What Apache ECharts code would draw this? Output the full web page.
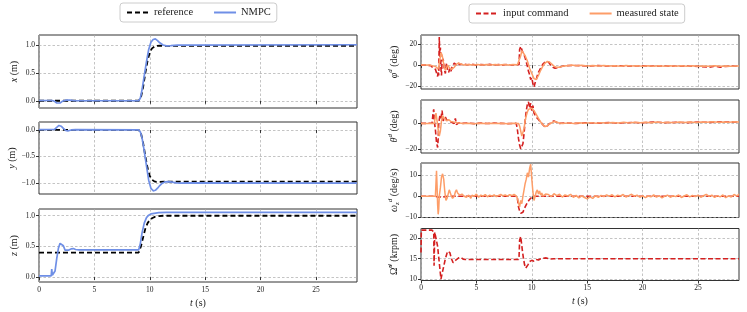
<!DOCTYPE html>
<html><head><meta charset="utf-8">
<script src="https://cdn.jsdelivr.net/npm/echarts@6/dist/echarts.min.js"></script>
<style>html,body{margin:0;padding:0;background:#fff}#c{width:747px;height:312px}</style>
</head><body><div id="c"></div>
<script>
// ---------------- DATA ----------------
const timeTicks = [0, 5, 10, 15, 20, 25];
const ticksX = [0, 0.5, 1.0];
const ticksY = [-1.0, -0.5, 0.0];
const ticksZ = [0, 0.5, 1.0];
const ticksPhi = [-20, 0, 20];
const ticksTheta = [-20, 0];
const ticksOmega = [-10, 0, 10];
const ticksRpm = [10, 15, 20];

// position x (m)
const xRef = [[0,0],[9.0,0],[9.2,0.06],[9.4,0.25],[9.6,0.5],[9.8,0.72],[10.0,0.87],[10.2,0.94],[10.4,0.97],[10.6,0.985],[10.9,0.99],[11.3,0.985],[28.7,0.985]];
const xNmpc = [[0,0.005],[1.2,0.005],[1.4,-0.01],[1.6,-0.04],[1.75,-0.05],[1.9,-0.04],[2.1,-0.01],[2.4,0.01],[2.8,0.01],[3.2,0],[4,0],[9.0,0],[9.15,0.05],[9.3,0.2],[9.5,0.45],[9.7,0.7],[9.9,0.92],[10.1,1.05],[10.3,1.1],[10.5,1.11],[10.7,1.08],[10.9,1.04],[11.2,1.0],[11.5,0.985],[11.9,0.99],[12.5,1.0],[28.7,1.005]];
// position y (m)
const yRef = [[0,0],[9.0,0],[9.2,-0.06],[9.4,-0.25],[9.6,-0.5],[9.8,-0.72],[10.0,-0.87],[10.2,-0.94],[10.4,-0.97],[10.6,-0.98],[10.9,-0.98],[11.3,-0.975],[28.7,-0.975]];
const yNmpc = [[0,0.005],[1.4,0.01],[1.6,0.05],[1.8,0.085],[2.0,0.07],[2.2,0.03],[2.4,-0.01],[2.6,-0.02],[2.9,0],[3.3,0.005],[9.0,0],[9.15,-0.04],[9.3,-0.15],[9.5,-0.4],[9.7,-0.68],[9.9,-0.95],[10.1,-1.1],[10.3,-1.15],[10.5,-1.14],[10.7,-1.1],[10.9,-1.05],[11.1,-1.01],[11.4,-0.98],[11.7,-0.975],[12.0,-0.985],[12.4,-1.0],[12.8,-1.005],[13.5,-1.0],[28.7,-1.005]];
// position z (m)
const zRef = [[0,0.4],[9.0,0.4],[9.2,0.5],[9.4,0.65],[9.6,0.79],[9.8,0.88],[10.0,0.93],[10.2,0.96],[10.5,0.985],[10.8,0.995],[11.2,1.0],[28.7,1.0]];
const zNmpc = [[0,0.02],[1.1,0.02],[1.15,0.13],[1.2,0.03],[1.3,0.04],[1.45,0.1],[1.6,0.3],[1.75,0.47],[1.9,0.55],[2.05,0.56],[2.2,0.51],[2.35,0.44],[2.5,0.41],[2.7,0.44],[2.9,0.46],[3.1,0.465],[3.3,0.45],[3.6,0.445],[4.0,0.445],[9.0,0.445],[9.15,0.55],[9.3,0.72],[9.5,0.88],[9.7,0.97],[9.9,1.01],[10.1,1.03],[10.4,1.04],[10.8,1.05],[11.5,1.055],[12.5,1.055],[28.7,1.055]];

// roll phi^d (deg)
const phiCmd = [[0,0],[0.5,0],[0.9,-0.5],[1.0,-1.5],[1.1,-3],[1.2,-2],[1.3,-4],[1.4,-3],[1.45,-9],[1.5,-11],[1.55,-6],[1.6,-10],[1.65,27],[1.7,8],[1.75,17],[1.8,-3],[1.85,-10],[1.9,4],[2.0,6],[2.1,-4],[2.2,-8],[2.3,2],[2.4,-5],[2.5,-7],[2.6,-3],[2.7,-6],[2.8,-2],[2.9,-3],[3.0,2],[3.1,3],[3.2,0],[3.3,2],[3.5,0.5],[3.8,1],[4.2,0.3],[4.6,0.8],[5.0,0],[5.4,0.5],[5.8,0.2],[6.2,0.7],[6.6,0],[7.0,0.5],[7.4,0.2],[7.8,0.6],[8.2,0.1],[8.6,0.4],[8.85,0.5],[8.9,15],[9.0,18],[9.1,17],[9.2,12],[9.3,10],[9.4,7],[9.5,3],[9.6,-1],[9.7,-6],[9.8,-9],[9.9,-14],[10.0,-12],[10.1,-18],[10.2,-21],[10.3,-17],[10.4,-14],[10.5,-10],[10.6,-7],[10.8,-3],[11.0,1],[11.2,3],[11.35,4.5],[11.5,3],[11.7,0],[11.9,-2],[12.1,-3],[12.3,-2.5],[12.6,-1.5],[13.0,-0.5],[14,-0.3],[15,-0.8],[16,-0.5],[17,-0.9],[18,-0.6],[19,-1],[20,-0.7],[21,-1],[22,-0.8],[23,-1.1],[24,-0.9],[25,-1.2],[26,-2],[26.5,-1],[27,-2],[27.5,-1.2],[28,-1],[28.7,-1.1]];
const phiMeas = [[0,0],[0.8,0],[1.0,-0.5],[1.2,-1],[1.4,-2],[1.5,-4],[1.6,-2],[1.7,5],[1.8,12],[1.9,10],[2.0,4],[2.1,-2],[2.2,-5],[2.3,-3],[2.4,0],[2.5,-1],[2.6,-3],[2.7,-4],[2.8,-4],[3.0,-2],[3.2,1],[3.4,2],[3.6,1],[3.9,0],[4.3,0.5],[4.7,0.2],[5.1,0.6],[5.5,0.1],[5.9,0.5],[6.3,0.2],[6.7,0.6],[7.1,0.1],[7.5,0.5],[7.9,0.2],[8.3,0.6],[8.7,0.3],[8.85,1],[9.0,9],[9.1,14],[9.2,13],[9.4,9],[9.6,4],[9.8,-3],[10.0,-8],[10.2,-13],[10.4,-14],[10.6,-10],[10.8,-5],[11.0,-1],[11.2,2],[11.4,3.5],[11.6,3],[11.8,1],[12.0,-1],[12.2,-2],[12.5,-2],[12.8,-1],[13.2,-0.5],[13.6,0],[14,-0.6],[14.5,-0.2],[15,-0.8],[15.5,-0.3],[16,-0.9],[16.5,-0.4],[17,-0.8],[17.5,-0.5],[18,-1],[18.5,-0.4],[19,-0.9],[19.5,-0.6],[20,-1],[20.5,-0.5],[21,-1.1],[21.5,-0.6],[22,-1],[22.5,-0.7],[23,-1.2],[23.5,-0.6],[24,-1],[24.5,-0.7],[25,-1.2],[25.5,-0.8],[26,-1.1],[26.5,-0.7],[27,-1.2],[27.5,-0.8],[28,-1.1],[28.7,-0.9]];

// pitch theta^d (deg)
const thetaCmd = [[0,0],[0.5,0],[1.0,0.3],[1.05,0],[1.1,9],[1.15,11],[1.2,2],[1.3,-5],[1.4,-15],[1.5,-19],[1.55,-12],[1.6,0],[1.7,6],[1.8,4],[1.9,10],[2.0,2],[2.1,3],[2.2,5],[2.3,3],[2.4,4],[2.5,2],[2.6,3],[2.7,1],[2.8,2],[3.0,0],[3.1,4],[3.2,-1],[3.4,0.5],[3.7,0],[4.2,0.3],[4.8,-0.2],[5.4,0.2],[6.0,-0.1],[6.6,0.2],[7.2,0],[7.8,-0.2],[8.4,0],[8.6,0],[8.7,-5],[8.8,-12],[8.9,-17],[9.0,-20],[9.1,-21],[9.2,-16],[9.3,-8],[9.4,2],[9.5,10],[9.6,15],[9.7,17],[9.8,12],[9.9,16],[10.0,10],[10.1,14],[10.2,8],[10.3,9],[10.4,5],[10.5,6],[10.6,3],[10.7,2],[10.9,0],[11.1,-2],[11.3,-3],[11.5,-1],[11.8,1],[12.0,2],[12.2,1],[12.5,0],[13,0.3],[14,0],[15,0.4],[16,0.2],[17,0.6],[18,0.3],[19,0.7],[20,0.5],[21,1],[22,0.6],[23,0.8],[24,0.6],[25,1],[26,0.8],[27,1.2],[28,1],[28.7,1.1]];
const thetaMeas = [[0,0],[1.2,0],[1.25,3],[1.35,8],[1.45,2],[1.55,-5],[1.65,-10],[1.75,-6],[1.85,2],[1.95,6],[2.1,4],[2.3,2],[2.5,3],[2.7,1.5],[3.0,1],[3.3,0.5],[3.8,0],[4.3,0.2],[4.8,-0.2],[5.3,0.2],[5.8,-0.1],[6.3,0.2],[6.8,-0.1],[7.3,0.1],[7.8,-0.2],[8.3,0.1],[8.8,0],[8.9,-2],[9.0,-6],[9.1,-10],[9.2,-9],[9.3,-4],[9.4,2],[9.5,6],[9.6,9],[9.7,11],[9.8,12],[10.0,12],[10.2,10],[10.4,7],[10.6,4],[10.8,1],[11.0,-1],[11.2,-2.5],[11.4,-2],[11.6,-0.5],[11.9,1],[12.1,1.5],[12.4,0.5],[12.8,0],[13.3,0.4],[13.8,0],[14.3,0.5],[14.8,0.1],[15.3,0.6],[15.8,0.2],[16.3,0.6],[16.8,0.3],[17.3,0.7],[17.8,0.3],[18.3,0.8],[18.8,0.4],[19.3,0.8],[19.8,0.5],[20.3,0.9],[20.8,0.5],[21.3,1],[21.8,0.6],[22.3,0.9],[22.8,0.6],[23.3,1],[23.8,0.7],[24.3,1.1],[24.8,0.7],[25.3,1],[25.8,0.8],[26.3,1.2],[26.8,0.8],[27.3,1.1],[27.8,0.9],[28.3,1.2],[28.7,1]];

// yaw rate omega_z^d (deg/s)
const omegaCmd = [[0,0],[1.3,0],[1.6,-0.5],[2.0,-0.3],[2.5,0],[8.5,0],[8.7,-1],[8.8,-5],[8.9,-7],[9.0,-8],[9.1,-8.5],[9.2,-7.5],[9.4,-5],[9.6,-3],[9.8,-1.5],[10.0,-0.5],[10.2,0],[28.7,0]];
const omegaMeas = [[0,0],[1.3,0],[1.35,6],[1.4,12],[1.45,5],[1.5,-4],[1.55,-8.5],[1.6,-6],[1.65,0],[1.75,4],[1.85,9],[1.95,10.5],[2.05,8],[2.15,2],[2.25,-2],[2.35,-1],[2.45,1],[2.55,3],[2.65,2.5],[2.75,0],[2.85,-1],[3.0,0],[3.1,2],[3.2,3],[3.3,1.5],[3.4,2],[3.5,0.5],[3.7,1],[3.9,0],[4.1,-0.5],[4.3,0.5],[4.5,-1],[4.6,0.5],[4.8,0],[5.0,1],[5.2,-0.5],[5.4,0.5],[5.6,0],[5.8,0.8],[6.0,-0.3],[6.2,0.5],[6.4,0],[6.6,0.6],[6.8,-0.2],[7.0,0.4],[7.2,0.8],[7.4,0.2],[7.6,0.6],[7.8,0],[8.0,0.7],[8.2,0.3],[8.4,0.8],[8.6,0.2],[8.7,-1],[8.8,-3],[8.9,-5],[9.0,-2],[9.1,-3.5],[9.2,0],[9.3,3],[9.4,6],[9.5,8],[9.6,11],[9.7,9],[9.8,13],[9.9,15],[10.0,8],[10.1,2],[10.2,-2],[10.3,0],[10.4,2],[10.5,3],[10.6,1],[10.7,2.5],[10.8,0.5],[10.9,1.5],[11.0,0],[11.25,1],[11.5,0.8],[11.75,-0.2],[12.0,1.2],[12.25,0.3],[12.5,0.9],[12.75,-0.4],[13.0,0.6],[13.25,0.1],[13.5,0.9],[13.75,-0.5],[14.0,0.4],[14.25,-0.8],[14.5,0.2],[14.75,-0.6],[15.0,-1.2],[15.25,-0.3],[15.5,-1.0],[15.75,0.2],[16.0,-0.5],[16.25,0.4],[16.5,-0.2],[16.75,0.6],[17.0,0],[17.25,0.7],[17.5,-0.3],[17.75,0.5],[18.0,0.1],[18.25,0.8],[18.5,-0.4],[18.75,0.3],[19.0,0.9],[19.25,0],[19.5,0.5],[19.75,-0.5],[20.0,0.2],[20.25,-0.7],[20.5,0.1],[20.75,-0.3],[21.0,0.6],[21.25,-0.4],[21.5,0.3],[21.75,-0.8],[22.0,0],[22.25,0.5],[22.5,-0.5],[22.75,0.2],[23.0,-0.2],[23.25,0.6],[23.5,-0.6],[23.75,0.1],[24.0,0.7],[24.25,-0.3],[24.5,0.4],[24.75,-0.2],[25.0,0.5],[25.25,-0.5],[25.5,0.2],[25.75,0.9],[26.0,-0.1],[26.25,0.5],[26.5,-0.6],[26.75,0.3],[27.0,-0.3],[27.25,0.6],[27.5,-0.7],[27.75,0.2],[28.0,-0.4],[28.25,0.8],[28.5,0.1],[28.7,1.0]];

// rotor speed command (krpm)
const rpmCmd = [[0,16.5],[0.03,22],[1.0,22],[1.1,21.7],[1.15,21.5],[1.18,13.3],[1.24,21.5],[1.35,21.5],[1.5,18],[1.65,14],[1.8,10],[1.85,10.2],[2.0,12.5],[2.2,15],[2.4,16.8],[2.5,17],[2.6,16.5],[2.75,15],[2.9,14],[3.05,14.1],[3.2,14.8],[3.4,15.2],[3.6,15.3],[3.8,14.9],[4.0,14.8],[8.8,14.8],[8.85,15.5],[8.9,19.5],[9.0,20.4],[9.05,20],[9.15,17],[9.25,15],[9.35,13.5],[9.45,12.7],[9.55,12.6],[9.65,13.5],[9.8,14.3],[10.0,14.6],[10.2,14.4],[10.4,14.8],[10.6,14.7],[10.8,15.0],[11.0,15.1],[11.3,15.2],[11.6,14.9],[12.0,15.0],[28.7,15.0]];

// ---------------- CHART ----------------
const FONT = '"Liberation Serif","DejaVu Serif",serif';
const C_REF = '#000000', C_NMPC = '#6f8fe6', C_CMD = '#d42020', C_MEAS = '#fd9d68';
const BORDER = '#333333';
const GRIDC = '#ababab';

const rich = {
  i: {fontStyle: 'italic', fontFamily: FONT, fontSize: 10, color: '#222'},
  n: {fontFamily: FONT, fontSize: 10, color: '#222'},
  sup: {fontStyle: 'italic', fontFamily: FONT, fontSize: 7, color: '#222', padding: [0, 0, 7, 0]},
  sub: {fontStyle: 'italic', fontFamily: FONT, fontSize: 7, color: '#222', padding: [6, 0, 0, 0]}
};

const panels = [
  {grid: {left: 39, top: 35, width: 318, height: 73}, min: -0.13, max: 1.18, ticks: ticksX, dec: 1, name: '{i|x}{n| (m)}', bottom: false, gap: 20},
  {grid: {left: 39, top: 122, width: 318, height: 72}, min: -1.21, max: 0.15, ticks: ticksY, dec: 1, name: '{i|y}{n| (m)}', bottom: false, gap: 20},
  {grid: {left: 39, top: 209, width: 318, height: 73}, min: -0.08, max: 1.11, ticks: ticksZ, dec: 1, name: '{i|z}{n| (m)}', bottom: true, gap: 20},
  {grid: {left: 421, top: 35, width: 318, height: 54}, min: -23, max: 29, ticks: ticksPhi, dec: 0, name: '{i|φ}{sup|d}{n| (deg)}', bottom: false, gap: 20},
  {grid: {left: 421, top: 100, width: 318, height: 53}, min: -23.3, max: 18.4, ticks: ticksTheta, dec: 0, name: '{i|θ}{sup|d}{n| (deg)}', bottom: false, gap: 20},
  {grid: {left: 421, top: 163, width: 318, height: 54.5}, min: -10, max: 15.6, ticks: ticksOmega, dec: 0, name: '{i|ω}{sub|z}{sup|d}{n| (deg/s)}', bottom: false, gap: 20},
  {grid: {left: 421, top: 228.5, width: 318, height: 52}, min: 9.66, max: 22.4, ticks: ticksRpm, dec: 0, name: '{n|Ω\u0303}{sup|d}{n| (krpm)}', bottom: true, gap: 20}
];

const fmt = (dec) => (v) => (v < 0 ? '\u2212' : '') + Math.abs(v).toFixed(dec);

const grids = [], xAxes = [], yAxes = [];
panels.forEach((p, k) => {
  grids.push(Object.assign({show: true, borderColor: BORDER, borderWidth: 1, backgroundColor: 'transparent', containLabel: false}, p.grid));
  xAxes.push({
    type: 'value', gridIndex: k, min: 0, max: 28.7,
    axisLine: {show: false},
    axisTick: {show: true, length: 3, inside: false, customValues: timeTicks, lineStyle: {color: BORDER, width: 1}},
    axisLabel: {show: p.bottom, customValues: timeTicks, fontFamily: FONT, fontSize: 7.5, color: '#222', margin: 4, formatter: fmt(0)},
    splitLine: {show: true, lineStyle: {color: GRIDC, type: [2.5, 2], width: 0.7}},
    name: p.bottom ? '{i|t}{n| (s)}' : '',
    nameLocation: 'middle', nameGap: 16,
    nameTextStyle: {rich: rich, fontFamily: FONT, fontSize: 10}
  });
  yAxes.push({
    type: 'value', gridIndex: k, min: p.min, max: p.max,
    axisLine: {show: false},
    axisTick: {show: true, length: 3, inside: false, customValues: p.ticks, lineStyle: {color: BORDER, width: 1}},
    axisLabel: {show: true, customValues: p.ticks, fontFamily: FONT, fontSize: 7.5, color: '#222', margin: 4, formatter: fmt(p.dec)},
    splitLine: {show: true, lineStyle: {color: GRIDC, type: [2.5, 2], width: 0.7}},
    name: p.name, nameLocation: 'middle', nameGap: p.gap, nameRotate: 90,
    nameTextStyle: {rich: rich, fontFamily: FONT, fontSize: 10}
  });
});

function line(name, k, data, color, dashed, width) {
  return {
    type: 'line', name: name, xAxisIndex: k, yAxisIndex: k, data: data,
    symbol: 'none', showSymbol: false, smooth: false, animation: false,
    lineStyle: {color: color, width: width, type: dashed ? dashed : 'solid'},
    itemStyle: {color: color}
  };
}

const series = [
  line('reference', 0, xRef, C_REF, [5, 3], 1.8),
  line('NMPC', 0, xNmpc, C_NMPC, null, 1.7),
  line('reference', 1, yRef, C_REF, [5, 3], 1.8),
  line('NMPC', 1, yNmpc, C_NMPC, null, 1.7),
  line('reference', 2, zRef, C_REF, [5, 3], 1.8),
  line('NMPC', 2, zNmpc, C_NMPC, null, 1.7),
  line('input command', 3, phiCmd, C_CMD, [5, 2.5], 1.6),
  line('measured state', 3, phiMeas, C_MEAS, null, 1.5),
  line('input command', 4, thetaCmd, C_CMD, [5, 2.5], 1.6),
  line('measured state', 4, thetaMeas, C_MEAS, null, 1.5),
  line('input command', 5, omegaCmd, C_CMD, [5, 2.5], 1.6),
  line('measured state', 5, omegaMeas, C_MEAS, null, 1.5),
  line('input command', 6, rpmCmd, C_CMD, [5, 2.5], 1.6)
];

const legendBase = {
  orient: 'horizontal', itemWidth: 22, itemHeight: 8, itemGap: 20,
  borderColor: '#cccccc', borderWidth: 1, borderRadius: 3, padding: [4, 6, 4, 6],
  backgroundColor: '#fff',
  itemStyle: {opacity: 0, borderWidth: 0},
  textStyle: {fontFamily: FONT, fontSize: 10.5, color: '#222'}
};

const option = {
  animation: false,
  backgroundColor: '#ffffff',
  grid: grids, xAxis: xAxes, yAxis: yAxes, series: series,
  legend: [
    Object.assign({}, legendBase, {left: 120, top: 3, data: ['reference', 'NMPC']}),
    Object.assign({}, legendBase, {left: 469, top: 4, data: ['input command', 'measured state']})
  ]
};

const chart = echarts.init(document.getElementById('c'), null, {renderer: 'canvas'});
chart.setOption(option);
</script></body></html>
